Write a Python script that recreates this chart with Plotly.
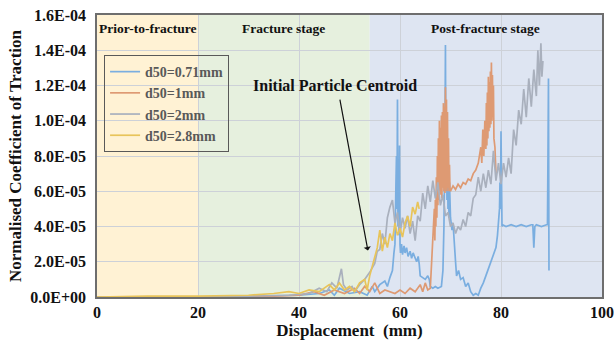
import plotly.graph_objects as go

# ---- data (y in units of 1e-5) ----
series_names = ["d50=0.71mm", "d50=1mm", "d50=2mm", "d50=2.8mm"]

x_071 = [0, 10, 20, 30, 40, 44, 46, 47, 48, 50, 52, 53.5, 54.5, 55, 56, 57, 57.5, 58, 58.5, 58.8, 59, 59.2, 59.3, 59.4, 59.5,
         59.6, 59.7, 59.8, 59.9, 60.0, 60.1, 60.3, 60.5, 60.8, 61, 61.3, 61.6, 62, 62.3, 62.6, 63, 63.3, 63.6, 63.8, 64,
         64.5, 65, 65.5, 65.8, 66, 66.5, 67, 67.5, 68.2, 68.5, 68.7, 68.8, 68.9, 69.0, 69.1, 69.2, 69.3, 69.4, 69.5,
         69.6, 69.7, 69.8, 70, 70.3, 70.5, 70.8, 71, 71.2, 71.6, 72, 72.5, 73, 73.5, 74, 74.5, 75, 75.5, 76, 76.5, 77,
         77.5, 78, 78.5, 79, 79.3, 79.5, 79.7, 79.8, 79.9, 80, 80.1, 80.2, 80.3, 81, 82, 83, 84, 85, 86, 86.3, 86.5,
         86.7, 87, 88, 89, 89.2, 89.3, 89.4, 89.5]
y_071 = [0, 0, 0, 0.05, 0.1, 0.2, 0.4, 0.1, 0.5, 0.2, 0.3, 0.1, 0.6, 0.3, 0.7, 0.9, 0.6, 1.1, 1.5, 2.5, 3.0, 6.5, 8.0, 5.0, 11.2,
         4.0, 7.5, 3.5, 8.6, 3.0, 2.5, 3.0, 2.4, 2.9, 2.5, 2.8, 2.3, 2.6, 2.2, 2.5, 2.2, 2.0, 2.3, 1.9, 1.2,
         1.1, 1.0, 1.2, 1.0, 0.6, 0.5, 0.6, 0.5, 0.6, 1.5, 4.0, 6.0, 9.0, 14.3, 6.0, 10.0, 5.5, 8.5, 5.0,
         7.0, 4.5, 6.5, 4.5, 3.8, 4.2, 2.5, 2.0, 1.2, 1.5, 1.0, 1.1, 0.6, 0.8, 0.3, 0.1, 0.2, 0.1, 0.5, 0.8, 1.2,
         1.6, 2.0, 2.4, 2.8, 3.5, 4.2, 5.0, 6.5, 5.0, 9.4, 5.5, 4.0, 4.1, 4.0, 4.1, 4.0, 4.1, 4.0, 4.1, 4.1, 2.8,
         4.0, 4.1, 4.0, 4.1, 4.1, 8.0, 12.4, 1.5]

x_1 = [0, 20, 35, 40, 43, 45, 47, 49, 51, 52, 53, 54, 55, 56, 57, 58, 59, 60, 61, 62, 63, 64, 64.5, 65, 65.5, 66, 66.3,
       66.6, 66.8, 66.9, 67.0, 67.1, 67.2, 67.3, 67.4, 67.5, 67.6, 67.7, 67.8, 67.9, 68.0, 68.1, 68.2, 68.3, 68.4,
       68.5, 68.6, 68.7, 68.8, 68.9, 69.0, 69.1, 69.2, 69.3, 69.4, 69.5, 69.6, 69.7, 69.8, 69.9, 70.0,
       70.5, 71, 71.5, 72, 72.5, 73, 73.5, 74, 74.5, 75, 75.5, 76, 76.2, 76.4, 76.6, 76.8, 77.0, 77.1, 77.2, 77.3,
       77.4, 77.5, 77.6, 77.7, 77.8, 77.9, 78.0, 78.1, 78.2, 78.3, 78.4, 78.5, 78.6, 78.8, 79]
y_1 = [0, 0, 0.05, 0.1, 0.3, 0.1, 0.4, 0.2, 0.5, 0.2, 0.6, 0.3, 0.8, 0.2, 0.4, 0.3, 0.2, 0.4, 0.2, 0.5, 0.3, 0.7, 0.3, 0.8,
       0.4, 0.5, 2.0, 3.5, 5.0, 3.2, 5.5, 4.0, 6.8, 4.5, 8.0, 5.2, 9.0, 5.5, 10.0, 6.0, 9.6, 5.8, 10.3, 5.6,
       10.5, 6.2, 11.0, 6.0, 10.8, 5.9, 11.9, 6.1, 11.2, 6.0, 10.5, 6.2, 9.0, 6.0, 7.5, 6.1, 6.0,
       6.3, 6.1, 6.4, 6.2, 6.5, 6.4, 6.7, 6.6, 7.0, 7.2, 7.6, 8.5, 7.6, 9.5, 8.0, 10.0, 8.4, 11.0, 8.6, 11.6,
       9.0, 12.5, 9.4, 12.2, 9.6, 12.8, 9.8, 13.3, 10.0, 12.6, 10.2, 12.0, 9.0, 8.5, 7.0]

x_2 = [0, 20, 30, 38, 42, 44, 45.5, 46.5, 47.5, 48.4, 48.8, 49.5, 50.5, 51, 52, 53, 54, 55, 55.5, 56, 56.5, 57, 57.5,
       58, 58.5, 59, 59.5, 60, 60.5, 61, 61.5, 62, 62.5, 63, 63.5, 64, 64.5, 65, 65.5, 66, 66.5, 67, 67.5, 68, 68.5,
       69, 69.5, 70, 70.5, 71, 71.5, 72, 72.5, 73, 73.5, 74, 74.5, 75, 75.5, 76, 76.5, 77, 77.5, 78, 78.5, 79, 79.5,
       80, 80.5, 81, 81.5, 82, 82.5, 83, 83.5, 84, 84.5, 85, 85.5, 86, 86.5, 87, 87.3, 87.6, 87.9, 88.1, 88.3]
y_2 = [0, 0, 0.05, 0.1, 0.2, 0.5, 0.3, 0.8, 0.5, 1.6, 0.7, 0.4, 0.6, 0.3, 0.7, 1.0, 1.4, 1.9, 2.6, 2.7, 3.6, 3.0, 4.5,
       5.1, 5.5, 4.2, 4.8, 3.6, 4.5, 3.9, 4.6, 3.6, 4.3, 3.2, 4.6, 4.3, 5.9, 5.0, 6.3, 5.4, 6.6, 5.6, 6.5, 5.2, 5.8,
       4.6, 4.8, 4.0, 4.2, 3.6, 4.0, 3.8, 4.4, 4.0, 4.8, 4.6, 5.6, 5.8, 6.8, 6.0, 7.0, 6.2, 7.2, 6.4, 8.3, 6.6, 7.6,
       6.4, 7.6, 6.8, 7.9, 7.0, 9.5, 8.6, 10.6, 9.8, 11.8, 10.2, 12.4, 10.8, 12.9, 11.4, 14.0, 12.0, 14.4, 12.5, 13.4, 10.6]

x_28 = [0, 10, 20, 30, 35, 38, 40, 42, 44, 46, 47, 48, 49, 50, 51, 52, 53, 53.5, 54, 54.5, 55, 55.5, 56, 56.5, 57,
        57.5, 58, 58.5, 59, 59.5, 60, 60.5, 61, 61.5, 62, 62.5, 63, 63.5, 63.8]
y_28 = [0, 0.05, 0.05, 0.1, 0.2, 0.3, 0.2, 0.4, 0.3, 0.7, 0.4, 0.8, 0.4, 0.6, 0.3, 0.8, 1.0, 0.4, 1.2, 1.7, 2.3, 2.8, 3.8,
        2.6, 3.4, 2.8, 3.6, 3.2, 4.2, 3.5, 3.9, 3.4, 4.2, 4.6, 4.0, 5.1, 4.7, 5.4, 5.0]

xs = [x_071, x_1, x_2, x_28]
ys = [y_071, y_1, y_2, y_28]
colors = ["#7AAEE0", "#DE9A73", "#A9B0BD", "#E8C45A"]

y_tick_vals = [0, 2, 4, 6, 8, 10, 12, 14, 16]
y_tick_text = ["0.0E+00", "2.0E-05", "4.0E-05", "6.0E-05", "8.0E-05", "1.0E-04", "1.2E-04", "1.4E-04", "1.6E-04"]
x_tick_vals = [0, 20, 40, 60, 80, 100]

stages = [("Prior-to-fracture", 0, 20, "#FFF2D4"), ("Fracture stage", 20, 54, "#E6F0DE"),
          ("Post-fracture stage", 54, 100, "#DEE5F2")]

FONT = "Liberation Serif"

fig = go.Figure()
for name, x, y, c in zip(series_names, xs, ys, colors):
    fig.add_trace(go.Scatter(x=x, y=[v * 1e-5 for v in y], mode="lines", name=name,
                             line=dict(color=c, width=1.7)))

for label, x0, x1, col in stages:
    fig.add_vrect(x0=x0, x1=x1, fillcolor=col, opacity=1, line_width=0, layer="below")
    fig.add_annotation(x=(x0 + x1) / 2, y=15.25e-5, text="<b>" + label + "</b>", showarrow=False,
                       font=dict(family=FONT, size=13.5, color="#111111"))

fig.add_annotation(x=48.1, y=11.2e-5, ax=53.7, ay=2.55e-5, axref="x", ayref="y", xref="x", yref="y",
                   text="", showarrow=True, arrowhead=2, arrowsize=1, arrowwidth=1.2, arrowside="start",
                   arrowcolor="#111111")
fig.add_annotation(x=47.2, y=12.0e-5, text="<b>Initial Particle Centroid</b>", showarrow=False,
                   font=dict(family=FONT, size=16, color="#111111"))

fig.update_layout(
    width=614, height=343,
    margin=dict(l=97, r=12, t=15, b=46, autoexpand=False),
    paper_bgcolor="white", plot_bgcolor="white",
    font=dict(family=FONT, color="#111111"),
    showlegend=True,
    legend=dict(x=0.014, y=0.858, xanchor="left", yanchor="top", bgcolor="rgba(0,0,0,0)",
                bordercolor="#595959", borderwidth=1,
                font=dict(family=FONT, size=14, color="#595959", weight="bold"),
                tracegroupgap=0, itemwidth=30),
    xaxis=dict(range=[0, 100], tickvals=x_tick_vals, showgrid=True, gridcolor="#CDD1D8", gridwidth=1,
               zeroline=False, showline=True, linecolor="#6E6E6E", linewidth=1.5, mirror=True,
               automargin=False,
               tickfont=dict(family=FONT, size=16, weight="bold"), ticks="", ticklabelstandoff=0,
               title=dict(text="<b>Displacement  (mm)</b>", font=dict(family=FONT, size=17), standoff=0)),
    yaxis=dict(range=[0, 16e-5], tickvals=[v * 1e-5 for v in y_tick_vals], ticktext=y_tick_text,
               showgrid=True, gridcolor="#CDD1D8", gridwidth=1, zeroline=False,
               showline=True, linecolor="#6E6E6E", linewidth=1.5, mirror=True,
               automargin=False,
               tickfont=dict(family=FONT, size=16, weight="bold"), ticks="", ticklabelstandoff=6,
               title=dict(text="<b>Normalised Coefficient of Traction</b>", font=dict(family=FONT, size=17),
                          standoff=4)),
)

fig.write_html("out.html")
